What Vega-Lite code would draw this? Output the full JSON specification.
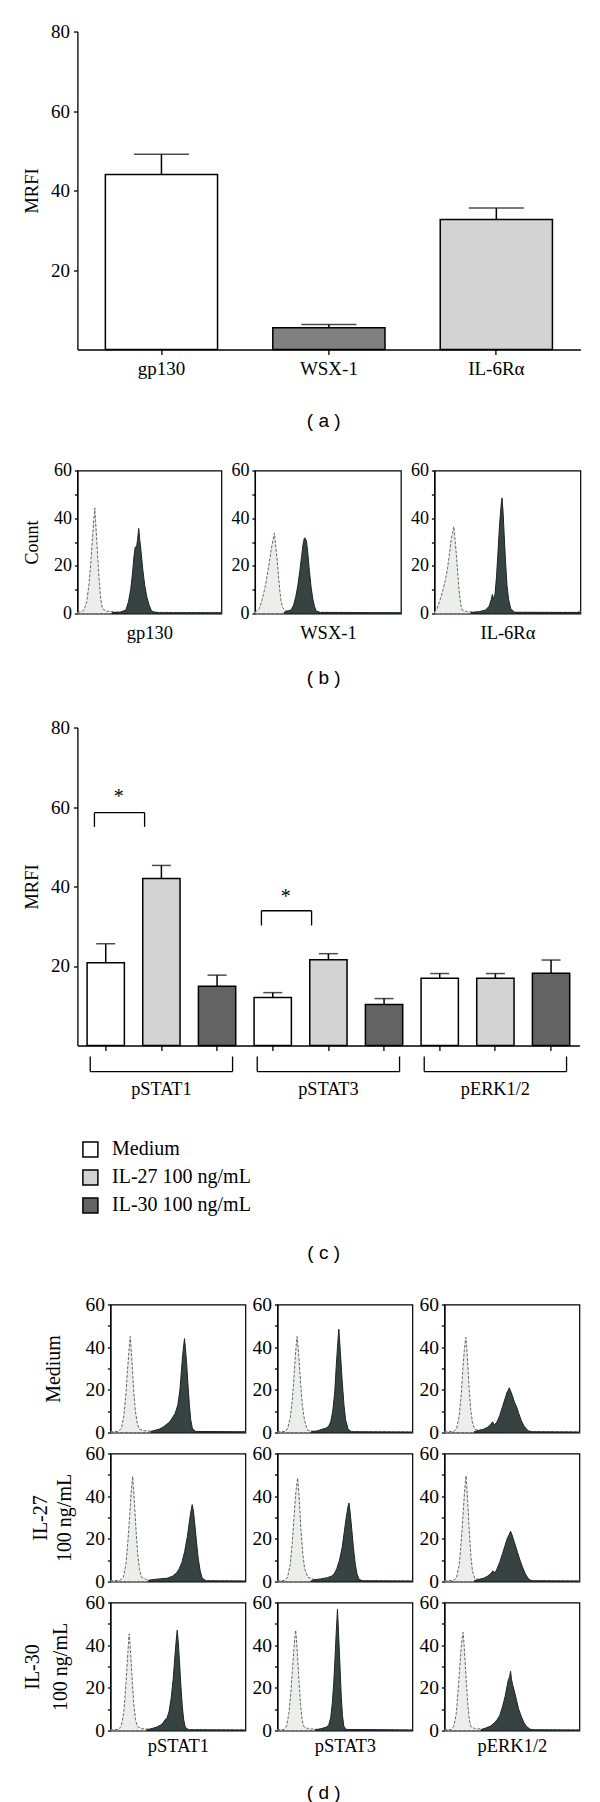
{
"$schema": "https://vega.github.io/schema/vega-lite/v6.json",
"background": "white",
"padding": {"left": 22.4, "top": 22.5, "right": 0, "bottom": 0},
"config": {
  "font": "Liberation Serif",
  "view": {"stroke": null},
  "axis": {"domainColor": "black", "tickColor": "black", "labelColor": "black", "titleColor": "black", "grid": false, "labelFont": "Liberation Serif", "titleFont": "Liberation Serif", "titleFontWeight": "normal", "domainWidth": 1.3, "tickWidth": 1.3},
  "legend": {"labelFont": "Liberation Serif", "labelColor": "black"},
  "title": {"font": "Liberation Sans", "fontSize": 19, "fontWeight": "normal", "color": "black", "orient": "bottom", "anchor": "middle", "frame": "group"}
},
"datasets": {
  "a": [
    {"m": "gp130", "v": 44.0, "e": 49.1},
    {"m": "WSX-1", "v": 5.5, "e": 6.3},
    {"m": "IL-6Rα", "v": 32.7, "e": 35.6}
  ],
  "c": [
    {"k": "pSTAT1|Medium", "t": "Medium", "v": 20.8, "e": 25.6},
    {"k": "pSTAT1|IL-27", "t": "IL-27 100 ng/mL", "v": 42.0, "e": 45.3},
    {"k": "pSTAT1|IL-30", "t": "IL-30 100 ng/mL", "v": 14.9, "e": 17.7},
    {"k": "pSTAT3|Medium", "t": "Medium", "v": 12.1, "e": 13.3},
    {"k": "pSTAT3|IL-27", "t": "IL-27 100 ng/mL", "v": 21.6, "e": 23.1},
    {"k": "pSTAT3|IL-30", "t": "IL-30 100 ng/mL", "v": 10.3, "e": 11.8},
    {"k": "pERK1/2|Medium", "t": "Medium", "v": 16.9, "e": 18.1},
    {"k": "pERK1/2|IL-27", "t": "IL-27 100 ng/mL", "v": 16.9, "e": 18.1},
    {"k": "pERK1/2|IL-30", "t": "IL-30 100 ng/mL", "v": 18.2, "e": 21.5}
  ],
  "grp": [
    {"a": "pSTAT1|Medium", "b": "pSTAT1|IL-30", "lo": -6.55, "hi": -2.77},
    {"a": "pSTAT3|Medium", "b": "pSTAT3|IL-30", "lo": -6.55, "hi": -2.77},
    {"a": "pERK1/2|Medium", "b": "pERK1/2|IL-30", "lo": -6.55, "hi": -2.77}
  ],
  "sig": [
    {"a": "pSTAT1|Medium", "b": "pSTAT1|IL-27", "y": 58.6, "lo": 55.0, "ys": 62.4},
    {"a": "pSTAT3|Medium", "b": "pSTAT3|IL-27", "y": 33.9, "lo": 30.2, "ys": 37.4}
  ],
  "b": [
    {"c":"gp130","s":"i","x":0,"y":0.5},{"c":"gp130","s":"i","x":3,"y":0.8},{"c":"gp130","s":"i","x":4.6,"y":1.5},{"c":"gp130","s":"i","x":6.5,"y":5},{"c":"gp130","s":"i","x":8,"y":12},{"c":"gp130","s":"i","x":9.3,"y":21},{"c":"gp130","s":"i","x":10.3,"y":30},{"c":"gp130","s":"i","x":11.2,"y":38},{"c":"gp130","s":"i","x":11.8,"y":42},{"c":"gp130","s":"i","x":12.1,"y":44.3},{"c":"gp130","s":"i","x":12.6,"y":39},{"c":"gp130","s":"i","x":13.3,"y":32},{"c":"gp130","s":"i","x":14.2,"y":23},{"c":"gp130","s":"i","x":15.2,"y":13},{"c":"gp130","s":"i","x":16.2,"y":6},{"c":"gp130","s":"i","x":17.4,"y":2},{"c":"gp130","s":"i","x":20,"y":1},{"c":"gp130","s":"i","x":28,"y":0.6},{"c":"gp130","s":"i","x":100,"y":0.3},
    {"c":"gp130","s":"s","x":24,"y":0.3},{"c":"gp130","s":"s","x":30,"y":0.6},{"c":"gp130","s":"s","x":33.7,"y":1.5},{"c":"gp130","s":"s","x":35.5,"y":5},{"c":"gp130","s":"s","x":37,"y":10},{"c":"gp130","s":"s","x":38.3,"y":17},{"c":"gp130","s":"s","x":39.3,"y":24},{"c":"gp130","s":"s","x":40.2,"y":28},{"c":"gp130","s":"s","x":41,"y":27.5},{"c":"gp130","s":"s","x":41.8,"y":31},{"c":"gp130","s":"s","x":42.6,"y":35.7},{"c":"gp130","s":"s","x":43.3,"y":31},{"c":"gp130","s":"s","x":44.2,"y":26},{"c":"gp130","s":"s","x":45.3,"y":19},{"c":"gp130","s":"s","x":46.7,"y":12},{"c":"gp130","s":"s","x":48.2,"y":7},{"c":"gp130","s":"s","x":49.8,"y":3.5},{"c":"gp130","s":"s","x":51.2,"y":1.5},{"c":"gp130","s":"s","x":52.3,"y":0.8},{"c":"gp130","s":"s","x":56,"y":0.3},{"c":"gp130","s":"s","x":100,"y":0.3},
    {"c":"WSX-1","s":"i","x":0,"y":0.5},{"c":"WSX-1","s":"i","x":3,"y":2},{"c":"WSX-1","s":"i","x":5,"y":6},{"c":"WSX-1","s":"i","x":7,"y":11},{"c":"WSX-1","s":"i","x":8.7,"y":17},{"c":"WSX-1","s":"i","x":10,"y":22},{"c":"WSX-1","s":"i","x":11.2,"y":27},{"c":"WSX-1","s":"i","x":12.3,"y":30.5},{"c":"WSX-1","s":"i","x":13.3,"y":33.8},{"c":"WSX-1","s":"i","x":14,"y":30},{"c":"WSX-1","s":"i","x":15,"y":24},{"c":"WSX-1","s":"i","x":16,"y":17},{"c":"WSX-1","s":"i","x":17,"y":10},{"c":"WSX-1","s":"i","x":18,"y":5},{"c":"WSX-1","s":"i","x":19,"y":2.5},{"c":"WSX-1","s":"i","x":21,"y":1.2},{"c":"WSX-1","s":"i","x":28,"y":0.6},{"c":"WSX-1","s":"i","x":100,"y":0.3},
    {"c":"WSX-1","s":"s","x":20,"y":0.5},{"c":"WSX-1","s":"s","x":24.8,"y":1.5},{"c":"WSX-1","s":"s","x":26.5,"y":3.5},{"c":"WSX-1","s":"s","x":28,"y":7},{"c":"WSX-1","s":"s","x":29.5,"y":12},{"c":"WSX-1","s":"s","x":30.8,"y":18},{"c":"WSX-1","s":"s","x":32,"y":24},{"c":"WSX-1","s":"s","x":33,"y":29},{"c":"WSX-1","s":"s","x":33.9,"y":31.7},{"c":"WSX-1","s":"s","x":34.6,"y":31.5},{"c":"WSX-1","s":"s","x":35.4,"y":30},{"c":"WSX-1","s":"s","x":36.3,"y":25},{"c":"WSX-1","s":"s","x":37.3,"y":18},{"c":"WSX-1","s":"s","x":38.5,"y":11},{"c":"WSX-1","s":"s","x":39.7,"y":6},{"c":"WSX-1","s":"s","x":40.8,"y":3},{"c":"WSX-1","s":"s","x":42,"y":1},{"c":"WSX-1","s":"s","x":45,"y":0.4},{"c":"WSX-1","s":"s","x":100,"y":0.3},
    {"c":"IL-6Rα","s":"i","x":0,"y":0.5},{"c":"IL-6Rα","s":"i","x":1.8,"y":2},{"c":"IL-6Rα","s":"i","x":3.5,"y":5},{"c":"IL-6Rα","s":"i","x":5.5,"y":9},{"c":"IL-6Rα","s":"i","x":7.5,"y":14},{"c":"IL-6Rα","s":"i","x":9,"y":19},{"c":"IL-6Rα","s":"i","x":10.3,"y":25},{"c":"IL-6Rα","s":"i","x":11.5,"y":31},{"c":"IL-6Rα","s":"i","x":12.5,"y":34},{"c":"IL-6Rα","s":"i","x":13.3,"y":36.5},{"c":"IL-6Rα","s":"i","x":14,"y":32},{"c":"IL-6Rα","s":"i","x":15,"y":25},{"c":"IL-6Rα","s":"i","x":16,"y":17},{"c":"IL-6Rα","s":"i","x":17,"y":9},{"c":"IL-6Rα","s":"i","x":18,"y":4},{"c":"IL-6Rα","s":"i","x":19,"y":1.5},{"c":"IL-6Rα","s":"i","x":22,"y":0.8},{"c":"IL-6Rα","s":"i","x":30,"y":0.5},{"c":"IL-6Rα","s":"i","x":98,"y":0.5},{"c":"IL-6Rα","s":"i","x":100,"y":1.2},
    {"c":"IL-6Rα","s":"s","x":25,"y":0.4},{"c":"IL-6Rα","s":"s","x":31,"y":0.8},{"c":"IL-6Rα","s":"s","x":35,"y":1.5},{"c":"IL-6Rα","s":"s","x":37.5,"y":3},{"c":"IL-6Rα","s":"s","x":39,"y":6},{"c":"IL-6Rα","s":"s","x":39.7,"y":8},{"c":"IL-6Rα","s":"s","x":40.5,"y":6},{"c":"IL-6Rα","s":"s","x":41.5,"y":8},{"c":"IL-6Rα","s":"s","x":42.5,"y":15},{"c":"IL-6Rα","s":"s","x":43.5,"y":25},{"c":"IL-6Rα","s":"s","x":44.5,"y":36},{"c":"IL-6Rα","s":"s","x":45.5,"y":44},{"c":"IL-6Rα","s":"s","x":46.3,"y":48.5},{"c":"IL-6Rα","s":"s","x":47,"y":43},{"c":"IL-6Rα","s":"s","x":47.8,"y":33},{"c":"IL-6Rα","s":"s","x":48.7,"y":22},{"c":"IL-6Rα","s":"s","x":49.7,"y":12},{"c":"IL-6Rα","s":"s","x":50.8,"y":6},{"c":"IL-6Rα","s":"s","x":52.3,"y":2},{"c":"IL-6Rα","s":"s","x":55,"y":0.5},{"c":"IL-6Rα","s":"s","x":100,"y":0.4}
  ],
  "d": [
    {"r":"Medium","c":"pSTAT1","s":"i","x":0,"y":0.3},{"r":"Medium","c":"pSTAT1","s":"i","x":6,"y":0.5},{"r":"Medium","c":"pSTAT1","s":"i","x":8.2,"y":2},{"r":"Medium","c":"pSTAT1","s":"i","x":10,"y":8},{"r":"Medium","c":"pSTAT1","s":"i","x":11.5,"y":18},{"r":"Medium","c":"pSTAT1","s":"i","x":12.5,"y":28},{"r":"Medium","c":"pSTAT1","s":"i","x":13.5,"y":36},{"r":"Medium","c":"pSTAT1","s":"i","x":14.2,"y":42},{"r":"Medium","c":"pSTAT1","s":"i","x":14.7,"y":45},{"r":"Medium","c":"pSTAT1","s":"i","x":15.3,"y":40},{"r":"Medium","c":"pSTAT1","s":"i","x":16.2,"y":31},{"r":"Medium","c":"pSTAT1","s":"i","x":17.2,"y":20},{"r":"Medium","c":"pSTAT1","s":"i","x":18.5,"y":10},{"r":"Medium","c":"pSTAT1","s":"i","x":20,"y":4},{"r":"Medium","c":"pSTAT1","s":"i","x":21.5,"y":1.5},{"r":"Medium","c":"pSTAT1","s":"i","x":25,"y":0.8},{"r":"Medium","c":"pSTAT1","s":"i","x":35,"y":0.5},{"r":"Medium","c":"pSTAT1","s":"i","x":100,"y":0.3},
    {"r":"Medium","c":"pSTAT1","s":"s","x":30,"y":0.5},{"r":"Medium","c":"pSTAT1","s":"s","x":33,"y":1},{"r":"Medium","c":"pSTAT1","s":"s","x":36,"y":1.5},{"r":"Medium","c":"pSTAT1","s":"s","x":39,"y":2.5},{"r":"Medium","c":"pSTAT1","s":"s","x":42,"y":4},{"r":"Medium","c":"pSTAT1","s":"s","x":44,"y":5},{"r":"Medium","c":"pSTAT1","s":"s","x":46,"y":7},{"r":"Medium","c":"pSTAT1","s":"s","x":48,"y":9},{"r":"Medium","c":"pSTAT1","s":"s","x":50,"y":13},{"r":"Medium","c":"pSTAT1","s":"s","x":51.5,"y":20},{"r":"Medium","c":"pSTAT1","s":"s","x":52.5,"y":28},{"r":"Medium","c":"pSTAT1","s":"s","x":53.5,"y":36},{"r":"Medium","c":"pSTAT1","s":"s","x":54.5,"y":42},{"r":"Medium","c":"pSTAT1","s":"s","x":54.9,"y":44},{"r":"Medium","c":"pSTAT1","s":"s","x":55.5,"y":40},{"r":"Medium","c":"pSTAT1","s":"s","x":56.5,"y":32},{"r":"Medium","c":"pSTAT1","s":"s","x":57.5,"y":22},{"r":"Medium","c":"pSTAT1","s":"s","x":58.5,"y":13},{"r":"Medium","c":"pSTAT1","s":"s","x":59.5,"y":6},{"r":"Medium","c":"pSTAT1","s":"s","x":60.7,"y":2},{"r":"Medium","c":"pSTAT1","s":"s","x":63,"y":0.5},{"r":"Medium","c":"pSTAT1","s":"s","x":100,"y":0.3},
    {"r":"Medium","c":"pSTAT3","s":"i","x":0,"y":0.3},{"r":"Medium","c":"pSTAT3","s":"i","x":6,"y":0.5},{"r":"Medium","c":"pSTAT3","s":"i","x":7.7,"y":2},{"r":"Medium","c":"pSTAT3","s":"i","x":9.5,"y":7},{"r":"Medium","c":"pSTAT3","s":"i","x":11,"y":15},{"r":"Medium","c":"pSTAT3","s":"i","x":12.3,"y":26},{"r":"Medium","c":"pSTAT3","s":"i","x":13.3,"y":36},{"r":"Medium","c":"pSTAT3","s":"i","x":14.1,"y":42},{"r":"Medium","c":"pSTAT3","s":"i","x":14.6,"y":45},{"r":"Medium","c":"pSTAT3","s":"i","x":15.2,"y":41},{"r":"Medium","c":"pSTAT3","s":"i","x":16.2,"y":33},{"r":"Medium","c":"pSTAT3","s":"i","x":17.3,"y":22},{"r":"Medium","c":"pSTAT3","s":"i","x":18.5,"y":13},{"r":"Medium","c":"pSTAT3","s":"i","x":20,"y":6},{"r":"Medium","c":"pSTAT3","s":"i","x":21.5,"y":2.5},{"r":"Medium","c":"pSTAT3","s":"i","x":22.6,"y":1},{"r":"Medium","c":"pSTAT3","s":"i","x":27,"y":0.6},{"r":"Medium","c":"pSTAT3","s":"i","x":35,"y":0.5},{"r":"Medium","c":"pSTAT3","s":"i","x":100,"y":0.2},
    {"r":"Medium","c":"pSTAT3","s":"s","x":25,"y":0.3},{"r":"Medium","c":"pSTAT3","s":"s","x":30,"y":0.8},{"r":"Medium","c":"pSTAT3","s":"s","x":33,"y":1.5},{"r":"Medium","c":"pSTAT3","s":"s","x":36,"y":2},{"r":"Medium","c":"pSTAT3","s":"s","x":38,"y":3},{"r":"Medium","c":"pSTAT3","s":"s","x":39.5,"y":5},{"r":"Medium","c":"pSTAT3","s":"s","x":41,"y":10},{"r":"Medium","c":"pSTAT3","s":"s","x":42.5,"y":19},{"r":"Medium","c":"pSTAT3","s":"s","x":43.5,"y":30},{"r":"Medium","c":"pSTAT3","s":"s","x":44.5,"y":40},{"r":"Medium","c":"pSTAT3","s":"s","x":45.2,"y":46},{"r":"Medium","c":"pSTAT3","s":"s","x":45.5,"y":48.4},{"r":"Medium","c":"pSTAT3","s":"s","x":46,"y":44},{"r":"Medium","c":"pSTAT3","s":"s","x":47,"y":34},{"r":"Medium","c":"pSTAT3","s":"s","x":48,"y":24},{"r":"Medium","c":"pSTAT3","s":"s","x":49.3,"y":13},{"r":"Medium","c":"pSTAT3","s":"s","x":50.5,"y":6},{"r":"Medium","c":"pSTAT3","s":"s","x":52.4,"y":1.5},{"r":"Medium","c":"pSTAT3","s":"s","x":55,"y":0.3},{"r":"Medium","c":"pSTAT3","s":"s","x":100,"y":0.2},
    {"r":"Medium","c":"pERK1/2","s":"i","x":0,"y":0.3},{"r":"Medium","c":"pERK1/2","s":"i","x":7,"y":0.5},{"r":"Medium","c":"pERK1/2","s":"i","x":9.1,"y":2},{"r":"Medium","c":"pERK1/2","s":"i","x":11,"y":8},{"r":"Medium","c":"pERK1/2","s":"i","x":12.5,"y":18},{"r":"Medium","c":"pERK1/2","s":"i","x":13.7,"y":30},{"r":"Medium","c":"pERK1/2","s":"i","x":14.8,"y":39},{"r":"Medium","c":"pERK1/2","s":"i","x":15.5,"y":43},{"r":"Medium","c":"pERK1/2","s":"i","x":15.9,"y":44.6},{"r":"Medium","c":"pERK1/2","s":"i","x":16.5,"y":40},{"r":"Medium","c":"pERK1/2","s":"i","x":17.3,"y":32},{"r":"Medium","c":"pERK1/2","s":"i","x":18.3,"y":21},{"r":"Medium","c":"pERK1/2","s":"i","x":19.5,"y":11},{"r":"Medium","c":"pERK1/2","s":"i","x":20.7,"y":5},{"r":"Medium","c":"pERK1/2","s":"i","x":22.4,"y":1.5},{"r":"Medium","c":"pERK1/2","s":"i","x":26,"y":0.8},{"r":"Medium","c":"pERK1/2","s":"i","x":35,"y":0.5},{"r":"Medium","c":"pERK1/2","s":"i","x":100,"y":0.2},
    {"r":"Medium","c":"pERK1/2","s":"s","x":22,"y":0.3},{"r":"Medium","c":"pERK1/2","s":"s","x":25.4,"y":1},{"r":"Medium","c":"pERK1/2","s":"s","x":29,"y":1.5},{"r":"Medium","c":"pERK1/2","s":"s","x":32,"y":2.5},{"r":"Medium","c":"pERK1/2","s":"s","x":34,"y":3.5},{"r":"Medium","c":"pERK1/2","s":"s","x":35.7,"y":5},{"r":"Medium","c":"pERK1/2","s":"s","x":37,"y":3.5},{"r":"Medium","c":"pERK1/2","s":"s","x":39,"y":5},{"r":"Medium","c":"pERK1/2","s":"s","x":41,"y":8},{"r":"Medium","c":"pERK1/2","s":"s","x":43,"y":12},{"r":"Medium","c":"pERK1/2","s":"s","x":45,"y":16},{"r":"Medium","c":"pERK1/2","s":"s","x":46.5,"y":19},{"r":"Medium","c":"pERK1/2","s":"s","x":47.5,"y":20},{"r":"Medium","c":"pERK1/2","s":"s","x":48,"y":21},{"r":"Medium","c":"pERK1/2","s":"s","x":49,"y":19.5},{"r":"Medium","c":"pERK1/2","s":"s","x":50.5,"y":17},{"r":"Medium","c":"pERK1/2","s":"s","x":52,"y":14},{"r":"Medium","c":"pERK1/2","s":"s","x":53.5,"y":12},{"r":"Medium","c":"pERK1/2","s":"s","x":55,"y":9},{"r":"Medium","c":"pERK1/2","s":"s","x":57,"y":5.5},{"r":"Medium","c":"pERK1/2","s":"s","x":59,"y":3},{"r":"Medium","c":"pERK1/2","s":"s","x":61,"y":1.5},{"r":"Medium","c":"pERK1/2","s":"s","x":62.2,"y":0.8},{"r":"Medium","c":"pERK1/2","s":"s","x":65,"y":0.3},{"r":"Medium","c":"pERK1/2","s":"s","x":100,"y":0.2},
    {"r":"IL-27","c":"pSTAT1","s":"i","x":0,"y":0.3},{"r":"IL-27","c":"pSTAT1","s":"i","x":7,"y":0.5},{"r":"IL-27","c":"pSTAT1","s":"i","x":9.6,"y":2},{"r":"IL-27","c":"pSTAT1","s":"i","x":11.5,"y":8},{"r":"IL-27","c":"pSTAT1","s":"i","x":13,"y":19},{"r":"IL-27","c":"pSTAT1","s":"i","x":14.3,"y":31},{"r":"IL-27","c":"pSTAT1","s":"i","x":15.3,"y":41},{"r":"IL-27","c":"pSTAT1","s":"i","x":16,"y":46},{"r":"IL-27","c":"pSTAT1","s":"i","x":16.5,"y":49.3},{"r":"IL-27","c":"pSTAT1","s":"i","x":17.1,"y":44},{"r":"IL-27","c":"pSTAT1","s":"i","x":18,"y":35},{"r":"IL-27","c":"pSTAT1","s":"i","x":19,"y":24},{"r":"IL-27","c":"pSTAT1","s":"i","x":20.2,"y":13},{"r":"IL-27","c":"pSTAT1","s":"i","x":21.5,"y":6},{"r":"IL-27","c":"pSTAT1","s":"i","x":23,"y":2},{"r":"IL-27","c":"pSTAT1","s":"i","x":27,"y":0.8},{"r":"IL-27","c":"pSTAT1","s":"i","x":35,"y":0.5},{"r":"IL-27","c":"pSTAT1","s":"i","x":100,"y":0.2},
    {"r":"IL-27","c":"pSTAT1","s":"s","x":28,"y":0.3},{"r":"IL-27","c":"pSTAT1","s":"s","x":30.6,"y":0.8},{"r":"IL-27","c":"pSTAT1","s":"s","x":36,"y":1.2},{"r":"IL-27","c":"pSTAT1","s":"s","x":42,"y":1.5},{"r":"IL-27","c":"pSTAT1","s":"s","x":46,"y":2.5},{"r":"IL-27","c":"pSTAT1","s":"s","x":49,"y":4},{"r":"IL-27","c":"pSTAT1","s":"s","x":51,"y":6},{"r":"IL-27","c":"pSTAT1","s":"s","x":53,"y":9},{"r":"IL-27","c":"pSTAT1","s":"s","x":55,"y":14},{"r":"IL-27","c":"pSTAT1","s":"s","x":57,"y":21},{"r":"IL-27","c":"pSTAT1","s":"s","x":58.5,"y":28},{"r":"IL-27","c":"pSTAT1","s":"s","x":59.7,"y":33},{"r":"IL-27","c":"pSTAT1","s":"s","x":60.6,"y":36},{"r":"IL-27","c":"pSTAT1","s":"s","x":61.5,"y":33},{"r":"IL-27","c":"pSTAT1","s":"s","x":62.5,"y":27},{"r":"IL-27","c":"pSTAT1","s":"s","x":63.7,"y":19},{"r":"IL-27","c":"pSTAT1","s":"s","x":65,"y":11},{"r":"IL-27","c":"pSTAT1","s":"s","x":66.5,"y":5},{"r":"IL-27","c":"pSTAT1","s":"s","x":68,"y":1.5},{"r":"IL-27","c":"pSTAT1","s":"s","x":71,"y":0.3},{"r":"IL-27","c":"pSTAT1","s":"s","x":100,"y":0.2},
    {"r":"IL-27","c":"pSTAT3","s":"i","x":0,"y":0.3},{"r":"IL-27","c":"pSTAT3","s":"i","x":5.5,"y":0.5},{"r":"IL-27","c":"pSTAT3","s":"i","x":7.5,"y":2},{"r":"IL-27","c":"pSTAT3","s":"i","x":9.5,"y":8},{"r":"IL-27","c":"pSTAT3","s":"i","x":11,"y":18},{"r":"IL-27","c":"pSTAT3","s":"i","x":12.3,"y":30},{"r":"IL-27","c":"pSTAT3","s":"i","x":13.4,"y":40},{"r":"IL-27","c":"pSTAT3","s":"i","x":14.4,"y":46},{"r":"IL-27","c":"pSTAT3","s":"i","x":15,"y":48.5},{"r":"IL-27","c":"pSTAT3","s":"i","x":15.6,"y":44},{"r":"IL-27","c":"pSTAT3","s":"i","x":16.5,"y":35},{"r":"IL-27","c":"pSTAT3","s":"i","x":17.5,"y":24},{"r":"IL-27","c":"pSTAT3","s":"i","x":18.8,"y":13},{"r":"IL-27","c":"pSTAT3","s":"i","x":20.2,"y":6},{"r":"IL-27","c":"pSTAT3","s":"i","x":22.5,"y":2},{"r":"IL-27","c":"pSTAT3","s":"i","x":27,"y":1},{"r":"IL-27","c":"pSTAT3","s":"i","x":35,"y":0.5},{"r":"IL-27","c":"pSTAT3","s":"i","x":100,"y":0.2},
    {"r":"IL-27","c":"pSTAT3","s":"s","x":25,"y":0.3},{"r":"IL-27","c":"pSTAT3","s":"s","x":27,"y":0.8},{"r":"IL-27","c":"pSTAT3","s":"s","x":32,"y":1.2},{"r":"IL-27","c":"pSTAT3","s":"s","x":37,"y":1.8},{"r":"IL-27","c":"pSTAT3","s":"s","x":40,"y":2.5},{"r":"IL-27","c":"pSTAT3","s":"s","x":42,"y":3.5},{"r":"IL-27","c":"pSTAT3","s":"s","x":44,"y":6},{"r":"IL-27","c":"pSTAT3","s":"s","x":46,"y":10},{"r":"IL-27","c":"pSTAT3","s":"s","x":48,"y":16},{"r":"IL-27","c":"pSTAT3","s":"s","x":49.5,"y":23},{"r":"IL-27","c":"pSTAT3","s":"s","x":51,"y":30},{"r":"IL-27","c":"pSTAT3","s":"s","x":52.3,"y":35},{"r":"IL-27","c":"pSTAT3","s":"s","x":53,"y":36.8},{"r":"IL-27","c":"pSTAT3","s":"s","x":53.8,"y":33},{"r":"IL-27","c":"pSTAT3","s":"s","x":55,"y":25},{"r":"IL-27","c":"pSTAT3","s":"s","x":56.3,"y":16},{"r":"IL-27","c":"pSTAT3","s":"s","x":57.7,"y":8},{"r":"IL-27","c":"pSTAT3","s":"s","x":59,"y":3.5},{"r":"IL-27","c":"pSTAT3","s":"s","x":60.5,"y":1},{"r":"IL-27","c":"pSTAT3","s":"s","x":63,"y":0.3},{"r":"IL-27","c":"pSTAT3","s":"s","x":100,"y":0.2},
    {"r":"IL-27","c":"pERK1/2","s":"i","x":0,"y":0.3},{"r":"IL-27","c":"pERK1/2","s":"i","x":7,"y":0.5},{"r":"IL-27","c":"pERK1/2","s":"i","x":9,"y":2},{"r":"IL-27","c":"pERK1/2","s":"i","x":11,"y":8},{"r":"IL-27","c":"pERK1/2","s":"i","x":12.5,"y":19},{"r":"IL-27","c":"pERK1/2","s":"i","x":13.8,"y":31},{"r":"IL-27","c":"pERK1/2","s":"i","x":14.9,"y":42},{"r":"IL-27","c":"pERK1/2","s":"i","x":15.6,"y":47},{"r":"IL-27","c":"pERK1/2","s":"i","x":16,"y":49.6},{"r":"IL-27","c":"pERK1/2","s":"i","x":16.6,"y":45},{"r":"IL-27","c":"pERK1/2","s":"i","x":17.4,"y":36},{"r":"IL-27","c":"pERK1/2","s":"i","x":18.4,"y":24},{"r":"IL-27","c":"pERK1/2","s":"i","x":19.6,"y":12},{"r":"IL-27","c":"pERK1/2","s":"i","x":20.8,"y":5},{"r":"IL-27","c":"pERK1/2","s":"i","x":22.4,"y":1.5},{"r":"IL-27","c":"pERK1/2","s":"i","x":26,"y":0.8},{"r":"IL-27","c":"pERK1/2","s":"i","x":35,"y":0.5},{"r":"IL-27","c":"pERK1/2","s":"i","x":100,"y":0.2},
    {"r":"IL-27","c":"pERK1/2","s":"s","x":22,"y":0.3},{"r":"IL-27","c":"pERK1/2","s":"s","x":25.4,"y":1},{"r":"IL-27","c":"pERK1/2","s":"s","x":29,"y":1.5},{"r":"IL-27","c":"pERK1/2","s":"s","x":32,"y":2.5},{"r":"IL-27","c":"pERK1/2","s":"s","x":34,"y":3.5},{"r":"IL-27","c":"pERK1/2","s":"s","x":36,"y":5},{"r":"IL-27","c":"pERK1/2","s":"s","x":37.5,"y":4},{"r":"IL-27","c":"pERK1/2","s":"s","x":39,"y":6},{"r":"IL-27","c":"pERK1/2","s":"s","x":41,"y":9},{"r":"IL-27","c":"pERK1/2","s":"s","x":43,"y":13},{"r":"IL-27","c":"pERK1/2","s":"s","x":45,"y":17},{"r":"IL-27","c":"pERK1/2","s":"s","x":46.5,"y":20},{"r":"IL-27","c":"pERK1/2","s":"s","x":48,"y":22},{"r":"IL-27","c":"pERK1/2","s":"s","x":49,"y":23.5},{"r":"IL-27","c":"pERK1/2","s":"s","x":50,"y":22},{"r":"IL-27","c":"pERK1/2","s":"s","x":51.5,"y":19},{"r":"IL-27","c":"pERK1/2","s":"s","x":53,"y":16},{"r":"IL-27","c":"pERK1/2","s":"s","x":54.5,"y":13},{"r":"IL-27","c":"pERK1/2","s":"s","x":56,"y":10},{"r":"IL-27","c":"pERK1/2","s":"s","x":58,"y":6.5},{"r":"IL-27","c":"pERK1/2","s":"s","x":60,"y":3.5},{"r":"IL-27","c":"pERK1/2","s":"s","x":62,"y":1.5},{"r":"IL-27","c":"pERK1/2","s":"s","x":63.7,"y":0.6},{"r":"IL-27","c":"pERK1/2","s":"s","x":66,"y":0.3},{"r":"IL-27","c":"pERK1/2","s":"s","x":100,"y":0.2},
    {"r":"IL-30","c":"pSTAT1","s":"i","x":0,"y":0.3},{"r":"IL-30","c":"pSTAT1","s":"i","x":6,"y":0.5},{"r":"IL-30","c":"pSTAT1","s":"i","x":8,"y":2},{"r":"IL-30","c":"pSTAT1","s":"i","x":9.8,"y":8},{"r":"IL-30","c":"pSTAT1","s":"i","x":11,"y":17},{"r":"IL-30","c":"pSTAT1","s":"i","x":12.1,"y":28},{"r":"IL-30","c":"pSTAT1","s":"i","x":13,"y":37},{"r":"IL-30","c":"pSTAT1","s":"i","x":13.5,"y":42},{"r":"IL-30","c":"pSTAT1","s":"i","x":13.9,"y":45.3},{"r":"IL-30","c":"pSTAT1","s":"i","x":14.5,"y":41},{"r":"IL-30","c":"pSTAT1","s":"i","x":15.3,"y":33},{"r":"IL-30","c":"pSTAT1","s":"i","x":16.3,"y":22},{"r":"IL-30","c":"pSTAT1","s":"i","x":17.4,"y":12},{"r":"IL-30","c":"pSTAT1","s":"i","x":18.6,"y":5},{"r":"IL-30","c":"pSTAT1","s":"i","x":20,"y":1.8},{"r":"IL-30","c":"pSTAT1","s":"i","x":24,"y":0.8},{"r":"IL-30","c":"pSTAT1","s":"i","x":32,"y":0.5},{"r":"IL-30","c":"pSTAT1","s":"i","x":100,"y":0.2},
    {"r":"IL-30","c":"pSTAT1","s":"s","x":27,"y":0.3},{"r":"IL-30","c":"pSTAT1","s":"s","x":30,"y":0.8},{"r":"IL-30","c":"pSTAT1","s":"s","x":34,"y":1.5},{"r":"IL-30","c":"pSTAT1","s":"s","x":37,"y":2.5},{"r":"IL-30","c":"pSTAT1","s":"s","x":39,"y":3.5},{"r":"IL-30","c":"pSTAT1","s":"s","x":40.5,"y":5},{"r":"IL-30","c":"pSTAT1","s":"s","x":42,"y":6},{"r":"IL-30","c":"pSTAT1","s":"s","x":43.5,"y":9},{"r":"IL-30","c":"pSTAT1","s":"s","x":45,"y":15},{"r":"IL-30","c":"pSTAT1","s":"s","x":46.5,"y":24},{"r":"IL-30","c":"pSTAT1","s":"s","x":47.7,"y":34},{"r":"IL-30","c":"pSTAT1","s":"s","x":48.7,"y":42},{"r":"IL-30","c":"pSTAT1","s":"s","x":49.5,"y":47},{"r":"IL-30","c":"pSTAT1","s":"s","x":50.2,"y":42},{"r":"IL-30","c":"pSTAT1","s":"s","x":51.2,"y":32},{"r":"IL-30","c":"pSTAT1","s":"s","x":52.2,"y":21},{"r":"IL-30","c":"pSTAT1","s":"s","x":53.3,"y":11},{"r":"IL-30","c":"pSTAT1","s":"s","x":54.3,"y":5},{"r":"IL-30","c":"pSTAT1","s":"s","x":55.5,"y":1.5},{"r":"IL-30","c":"pSTAT1","s":"s","x":58,"y":0.3},{"r":"IL-30","c":"pSTAT1","s":"s","x":100,"y":0.2},
    {"r":"IL-30","c":"pSTAT3","s":"i","x":0,"y":0.3},{"r":"IL-30","c":"pSTAT3","s":"i","x":5,"y":0.5},{"r":"IL-30","c":"pSTAT3","s":"i","x":6.8,"y":2},{"r":"IL-30","c":"pSTAT3","s":"i","x":8.5,"y":8},{"r":"IL-30","c":"pSTAT3","s":"i","x":10,"y":18},{"r":"IL-30","c":"pSTAT3","s":"i","x":11.2,"y":29},{"r":"IL-30","c":"pSTAT3","s":"i","x":12.2,"y":38},{"r":"IL-30","c":"pSTAT3","s":"i","x":13,"y":44},{"r":"IL-30","c":"pSTAT3","s":"i","x":13.5,"y":47},{"r":"IL-30","c":"pSTAT3","s":"i","x":14.1,"y":43},{"r":"IL-30","c":"pSTAT3","s":"i","x":15,"y":34},{"r":"IL-30","c":"pSTAT3","s":"i","x":16,"y":23},{"r":"IL-30","c":"pSTAT3","s":"i","x":17.2,"y":12},{"r":"IL-30","c":"pSTAT3","s":"i","x":18.3,"y":5},{"r":"IL-30","c":"pSTAT3","s":"i","x":19.5,"y":1.8},{"r":"IL-30","c":"pSTAT3","s":"i","x":23,"y":0.8},{"r":"IL-30","c":"pSTAT3","s":"i","x":30,"y":0.5},{"r":"IL-30","c":"pSTAT3","s":"i","x":100,"y":0.2},
    {"r":"IL-30","c":"pSTAT3","s":"s","x":28,"y":0.3},{"r":"IL-30","c":"pSTAT3","s":"s","x":32,"y":0.8},{"r":"IL-30","c":"pSTAT3","s":"s","x":36,"y":1.5},{"r":"IL-30","c":"pSTAT3","s":"s","x":38,"y":2.5},{"r":"IL-30","c":"pSTAT3","s":"s","x":39.5,"y":6},{"r":"IL-30","c":"pSTAT3","s":"s","x":40.7,"y":13},{"r":"IL-30","c":"pSTAT3","s":"s","x":41.8,"y":23},{"r":"IL-30","c":"pSTAT3","s":"s","x":42.7,"y":34},{"r":"IL-30","c":"pSTAT3","s":"s","x":43.5,"y":45},{"r":"IL-30","c":"pSTAT3","s":"s","x":44.1,"y":52},{"r":"IL-30","c":"pSTAT3","s":"s","x":44.5,"y":56.8},{"r":"IL-30","c":"pSTAT3","s":"s","x":45,"y":50},{"r":"IL-30","c":"pSTAT3","s":"s","x":45.7,"y":40},{"r":"IL-30","c":"pSTAT3","s":"s","x":46.5,"y":28},{"r":"IL-30","c":"pSTAT3","s":"s","x":47.3,"y":16},{"r":"IL-30","c":"pSTAT3","s":"s","x":48.2,"y":7},{"r":"IL-30","c":"pSTAT3","s":"s","x":49.2,"y":2},{"r":"IL-30","c":"pSTAT3","s":"s","x":51,"y":0.5},{"r":"IL-30","c":"pSTAT3","s":"s","x":100,"y":0.2},
    {"r":"IL-30","c":"pERK1/2","s":"i","x":0,"y":0.3},{"r":"IL-30","c":"pERK1/2","s":"i","x":5,"y":0.5},{"r":"IL-30","c":"pERK1/2","s":"i","x":7,"y":2},{"r":"IL-30","c":"pERK1/2","s":"i","x":8.8,"y":8},{"r":"IL-30","c":"pERK1/2","s":"i","x":10.2,"y":19},{"r":"IL-30","c":"pERK1/2","s":"i","x":11.4,"y":30},{"r":"IL-30","c":"pERK1/2","s":"i","x":12.5,"y":39},{"r":"IL-30","c":"pERK1/2","s":"i","x":13.3,"y":44},{"r":"IL-30","c":"pERK1/2","s":"i","x":13.8,"y":46},{"r":"IL-30","c":"pERK1/2","s":"i","x":14.4,"y":42},{"r":"IL-30","c":"pERK1/2","s":"i","x":15.3,"y":33},{"r":"IL-30","c":"pERK1/2","s":"i","x":16.3,"y":22},{"r":"IL-30","c":"pERK1/2","s":"i","x":17.4,"y":12},{"r":"IL-30","c":"pERK1/2","s":"i","x":18.5,"y":5},{"r":"IL-30","c":"pERK1/2","s":"i","x":19.6,"y":1.8},{"r":"IL-30","c":"pERK1/2","s":"i","x":23,"y":0.8},{"r":"IL-30","c":"pERK1/2","s":"i","x":35,"y":0.5},{"r":"IL-30","c":"pERK1/2","s":"i","x":100,"y":0.2},
    {"r":"IL-30","c":"pERK1/2","s":"s","x":27,"y":0.3},{"r":"IL-30","c":"pERK1/2","s":"s","x":30,"y":1},{"r":"IL-30","c":"pERK1/2","s":"s","x":34,"y":2},{"r":"IL-30","c":"pERK1/2","s":"s","x":37,"y":3.5},{"r":"IL-30","c":"pERK1/2","s":"s","x":39,"y":5},{"r":"IL-30","c":"pERK1/2","s":"s","x":41,"y":7},{"r":"IL-30","c":"pERK1/2","s":"s","x":43,"y":11},{"r":"IL-30","c":"pERK1/2","s":"s","x":45,"y":16},{"r":"IL-30","c":"pERK1/2","s":"s","x":46.5,"y":21},{"r":"IL-30","c":"pERK1/2","s":"s","x":47.5,"y":24},{"r":"IL-30","c":"pERK1/2","s":"s","x":48.3,"y":25},{"r":"IL-30","c":"pERK1/2","s":"s","x":49,"y":27.8},{"r":"IL-30","c":"pERK1/2","s":"s","x":49.7,"y":24},{"r":"IL-30","c":"pERK1/2","s":"s","x":50.7,"y":21},{"r":"IL-30","c":"pERK1/2","s":"s","x":52,"y":18},{"r":"IL-30","c":"pERK1/2","s":"s","x":53.5,"y":14},{"r":"IL-30","c":"pERK1/2","s":"s","x":55,"y":10},{"r":"IL-30","c":"pERK1/2","s":"s","x":57,"y":6.5},{"r":"IL-30","c":"pERK1/2","s":"s","x":59,"y":3.5},{"r":"IL-30","c":"pERK1/2","s":"s","x":61,"y":1.8},{"r":"IL-30","c":"pERK1/2","s":"s","x":63.5,"y":0.6},{"r":"IL-30","c":"pERK1/2","s":"s","x":66,"y":0.3},{"r":"IL-30","c":"pERK1/2","s":"s","x":100,"y":0.2}
  ]
},
"resolve": {"scale": {"fill": "independent"}, "legend": {"fill": "independent"}},
"columns": 1,
"align": "none",
"spacing": 30,
"concat": [
  {
    "data": {"name": "a"},
    "width": 503, "height": 318,
    "title": {"text": "( a )", "offset": 33, "dx": -5.2},
    "encoding": {
      "x": {"field": "m", "type": "nominal", "sort": ["gp130", "WSX-1", "IL-6Rα"], "scale": {"paddingInner": 0.33, "paddingOuter": 0.167}, "axis": {"title": null, "labelAngle": 0, "labelFontSize": 19, "tickSize": 5, "labelPadding": 5}}
    },
    "layer": [
      {"mark": {"type": "bar", "stroke": "black", "strokeWidth": 1.5},
       "encoding": {
         "y": {"field": "v", "type": "quantitative", "scale": {"domain": [0, 80], "nice": false}, "axis": {"values": [20, 40, 60, 80], "title": "MRFI", "labelFontSize": 19, "titleFontSize": 18.5, "tickSize": 4, "labelPadding": 4, "titlePadding": 8.5, "minExtent": 27, "maxExtent": 27}},
         "fill": {"field": "m", "type": "nominal", "scale": {"domain": ["gp130", "WSX-1", "IL-6Rα"], "range": ["#ffffff", "#808080", "#d3d3d3"]}, "legend": null}
       }},
      {"mark": {"type": "rule", "strokeWidth": 1.5, "color": "black"}, "encoding": {"y": {"field": "v", "type": "quantitative"}, "y2": {"field": "e"}}},
      {"mark": {"type": "tick", "size": 55, "thickness": 1.5, "color": "black"}, "encoding": {"y": {"field": "e", "type": "quantitative"}}}
    ]
  },
  {
    "columns": 3,
    "bounds": "flush",
    "spacing": 33.5,
    "concat": [
      {
        "data": {"name": "b"},
        "width": 144, "height": 143,
        "view": {"stroke": "black", "strokeWidth": 1.2},
        "transform": [{"filter": "datum.c == 'gp130'"}],
        "encoding": {
          "x": {"field": "x", "type": "quantitative", "scale": {"domain": [0, 100], "nice": false}, "axis": {"title": "gp130", "labels": false, "ticks": false, "domain": false, "titleFontSize": 18.5, "titlePadding": 10}},
          "y": {"field": "y", "type": "quantitative", "scale": {"domain": [0, 60], "nice": false}, "axis": {"title": "Count", "values": [0, 10, 20, 30, 40, 50, 60], "labelExpr": "datum.value % 20 == 0 ? datum.label : ''", "tickSize": 3, "labelPadding": 3, "labelFontSize": 18, "titleFontSize": 18, "titlePadding": 11.7, "minExtent": 24, "maxExtent": 24}}
        },
        "layer": [
          {"transform": [{"filter": "datum.s == 'i'"}], "mark": {"type": "area", "fill": "#eceeea", "stroke": "#666666", "strokeWidth": 1, "strokeDash": [3, 1.5]}},
          {"transform": [{"filter": "datum.s == 's'"}], "mark": {"type": "area", "fill": "#374343", "stroke": "#1c2424", "strokeWidth": 1}}
        ]
      },
      {
        "data": {"name": "b"},
        "width": 146, "height": 143,
        "view": {"stroke": "black", "strokeWidth": 1.2},
        "title": {"text": "( b )", "offset": 26.5, "dx": -4.2},
        "transform": [{"filter": "datum.c == 'WSX-1'"}],
        "encoding": {
          "x": {"field": "x", "type": "quantitative", "scale": {"domain": [0, 100], "nice": false}, "axis": {"title": "WSX-1", "labels": false, "ticks": false, "domain": false, "titleFontSize": 18.5, "titlePadding": 10}},
          "y": {"field": "y", "type": "quantitative", "scale": {"domain": [0, 60], "nice": false}, "axis": {"title": null, "values": [0, 10, 20, 30, 40, 50, 60], "labelExpr": "datum.value % 20 == 0 ? datum.label : ''", "tickSize": 3, "labelPadding": 3, "labelFontSize": 18, "minExtent": 24, "maxExtent": 24}}
        },
        "layer": [
          {"transform": [{"filter": "datum.s == 'i'"}], "mark": {"type": "area", "fill": "#eceeea", "stroke": "#666666", "strokeWidth": 1, "strokeDash": [3, 1.5]}},
          {"transform": [{"filter": "datum.s == 's'"}], "mark": {"type": "area", "fill": "#374343", "stroke": "#1c2424", "strokeWidth": 1}}
        ]
      },
      {
        "data": {"name": "b"},
        "width": 146, "height": 143,
        "view": {"stroke": "black", "strokeWidth": 1.2},
        "transform": [{"filter": "datum.c == 'IL-6Rα'"}],
        "encoding": {
          "x": {"field": "x", "type": "quantitative", "scale": {"domain": [0, 100], "nice": false}, "axis": {"title": "IL-6Rα", "labels": false, "ticks": false, "domain": false, "titleFontSize": 18.5, "titlePadding": 10}},
          "y": {"field": "y", "type": "quantitative", "scale": {"domain": [0, 60], "nice": false}, "axis": {"title": null, "values": [0, 10, 20, 30, 40, 50, 60], "labelExpr": "datum.value % 20 == 0 ? datum.label : ''", "tickSize": 3, "labelPadding": 3, "labelFontSize": 18, "minExtent": 24, "maxExtent": 24}}
        },
        "layer": [
          {"transform": [{"filter": "datum.s == 'i'"}], "mark": {"type": "area", "fill": "#eceeea", "stroke": "#666666", "strokeWidth": 1, "strokeDash": [3, 1.5]}},
          {"transform": [{"filter": "datum.s == 's'"}], "mark": {"type": "area", "fill": "#374343", "stroke": "#1c2424", "strokeWidth": 1}}
        ]
      }
    ]
  },
  {
    "width": 502, "height": 318,
    "title": {"text": "( c )", "offset": 27.5, "dx": -4.7},
    "layer": [
      {"data": {"name": "c"},
       "mark": {"type": "bar", "stroke": "black", "strokeWidth": 1.5},
       "encoding": {
         "x": {"field": "k", "type": "nominal", "sort": null, "scale": {"domain": ["pSTAT1|Medium", "pSTAT1|IL-27", "pSTAT1|IL-30", "pSTAT3|Medium", "pSTAT3|IL-27", "pSTAT3|IL-30", "pERK1/2|Medium", "pERK1/2|IL-27", "pERK1/2|IL-30"], "paddingInner": 0.33, "paddingOuter": 0.174}, "axis": {"title": null, "labelAngle": 0, "labelExpr": "indexof(datum.value, 'IL-27') >= 0 ? split(datum.value, '|')[0] : ''", "labelFontSize": 18.3, "tickSize": 5, "labelPadding": 30}},
         "y": {"field": "v", "type": "quantitative", "scale": {"domain": [0, 80], "nice": false}, "axis": {"values": [20, 40, 60, 80], "title": "MRFI", "labelFontSize": 19, "titleFontSize": 18.5, "tickSize": 4, "labelPadding": 4, "titlePadding": 8.5, "minExtent": 27, "maxExtent": 27}},
         "fill": {"field": "t", "type": "nominal", "scale": {"domain": ["Medium", "IL-27 100 ng/mL", "IL-30 100 ng/mL"], "range": ["#ffffff", "#d3d3d3", "#636363"]},
                  "legend": {"title": null, "orient": "none", "legendX": 3, "legendY": 412, "padding": 0, "symbolType": "square", "symbolSize": 225, "symbolStrokeColor": "black", "symbolStrokeWidth": 1.5, "labelFontSize": 20, "rowPadding": 6, "labelOffset": 11.7}}
       }},
      {"data": {"name": "c"}, "mark": {"type": "rule", "strokeWidth": 1.5, "color": "black"}, "encoding": {"x": {"field": "k", "type": "nominal"}, "y": {"field": "v", "type": "quantitative"}, "y2": {"field": "e"}}},
      {"data": {"name": "c"}, "mark": {"type": "tick", "size": 19, "thickness": 1.5, "color": "black"}, "encoding": {"x": {"field": "k", "type": "nominal"}, "y": {"field": "e", "type": "quantitative"}}},
      {"data": {"name": "grp"}, "mark": {"type": "rule", "strokeWidth": 1.3, "color": "black", "xOffset": -15.5, "x2Offset": 15.5}, "encoding": {"x": {"field": "a", "type": "nominal"}, "x2": {"field": "b"}, "y": {"field": "lo", "type": "quantitative"}}},
      {"data": {"name": "grp"}, "mark": {"type": "rule", "strokeWidth": 1.3, "color": "black", "xOffset": -15.5}, "encoding": {"x": {"field": "a", "type": "nominal"}, "y": {"field": "lo", "type": "quantitative"}, "y2": {"field": "hi"}}},
      {"data": {"name": "grp"}, "mark": {"type": "rule", "strokeWidth": 1.3, "color": "black", "xOffset": 15.5}, "encoding": {"x": {"field": "b", "type": "nominal"}, "y": {"field": "lo", "type": "quantitative"}, "y2": {"field": "hi"}}},
      {"data": {"name": "sig"}, "mark": {"type": "rule", "strokeWidth": 1.3, "color": "black", "xOffset": -11.3, "x2Offset": -16.8}, "encoding": {"x": {"field": "a", "type": "nominal"}, "x2": {"field": "b"}, "y": {"field": "y", "type": "quantitative"}}},
      {"data": {"name": "sig"}, "mark": {"type": "rule", "strokeWidth": 1.3, "color": "black", "xOffset": -11.3}, "encoding": {"x": {"field": "a", "type": "nominal"}, "y": {"field": "lo", "type": "quantitative"}, "y2": {"field": "y"}}},
      {"data": {"name": "sig"}, "mark": {"type": "rule", "strokeWidth": 1.3, "color": "black", "xOffset": -16.8}, "encoding": {"x": {"field": "b", "type": "nominal"}, "y": {"field": "lo", "type": "quantitative"}, "y2": {"field": "y"}}},
      {"data": {"name": "sig"}, "mark": {"type": "text", "text": "*", "fontSize": 20, "font": "Liberation Serif", "color": "black", "xOffset": 13, "baseline": "middle", "align": "center"}, "encoding": {"x": {"field": "a", "type": "nominal"}, "y": {"field": "ys", "type": "quantitative"}}}
    ]
  },
  {
    "columns": 4,
    "bounds": "flush",
    "spacing": {"row": 21, "column": 32},
    "concat": [
      {"data": {"values": []}, "mark": "point", "width": 1, "height": 128},
      {"data": {"name": "d"}, "width": 135, "height": 128, "view": {"stroke": "black", "strokeWidth": 1.2},
       "transform": [{"filter": "datum.r == 'Medium' && datum.c == 'pSTAT1'"}],
       "encoding": {
         "x": {"field": "x", "type": "quantitative", "scale": {"domain": [0, 100], "nice": false}, "axis": null},
         "y": {"field": "y", "type": "quantitative", "scale": {"domain": [0, 60], "nice": false}, "axis": {"title": "Medium", "titleFontSize": 20, "titlePadding": 21.1, "values": [0, 10, 20, 30, 40, 50, 60], "labelExpr": "datum.value % 20 == 0 ? datum.label : ''", "tickSize": 3, "labelPadding": 3, "labelFontSize": 19.5, "minExtent": 25.5, "maxExtent": 25.5}}
       },
       "layer": [
         {"transform": [{"filter": "datum.s == 'i'"}], "mark": {"type": "area", "fill": "#eceeea", "stroke": "#666666", "strokeWidth": 1, "strokeDash": [3, 1.5]}},
         {"transform": [{"filter": "datum.s == 's'"}], "mark": {"type": "area", "fill": "#374343", "stroke": "#1c2424", "strokeWidth": 1}}
       ]},
      {"data": {"name": "d"}, "width": 135, "height": 128, "view": {"stroke": "black", "strokeWidth": 1.2},
       "transform": [{"filter": "datum.r == 'Medium' && datum.c == 'pSTAT3'"}],
       "encoding": {
         "x": {"field": "x", "type": "quantitative", "scale": {"domain": [0, 100], "nice": false}, "axis": null},
         "y": {"field": "y", "type": "quantitative", "scale": {"domain": [0, 60], "nice": false}, "axis": {"title": null, "values": [0, 10, 20, 30, 40, 50, 60], "labelExpr": "datum.value % 20 == 0 ? datum.label : ''", "tickSize": 3, "labelPadding": 3, "labelFontSize": 19.5, "minExtent": 25.5, "maxExtent": 25.5}}
       },
       "layer": [
         {"transform": [{"filter": "datum.s == 'i'"}], "mark": {"type": "area", "fill": "#eceeea", "stroke": "#666666", "strokeWidth": 1, "strokeDash": [3, 1.5]}},
         {"transform": [{"filter": "datum.s == 's'"}], "mark": {"type": "area", "fill": "#374343", "stroke": "#1c2424", "strokeWidth": 1}}
       ]},
      {"data": {"name": "d"}, "width": 135, "height": 128, "view": {"stroke": "black", "strokeWidth": 1.2},
       "transform": [{"filter": "datum.r == 'Medium' && datum.c == 'pERK1/2'"}],
       "encoding": {
         "x": {"field": "x", "type": "quantitative", "scale": {"domain": [0, 100], "nice": false}, "axis": null},
         "y": {"field": "y", "type": "quantitative", "scale": {"domain": [0, 60], "nice": false}, "axis": {"title": null, "values": [0, 10, 20, 30, 40, 50, 60], "labelExpr": "datum.value % 20 == 0 ? datum.label : ''", "tickSize": 3, "labelPadding": 3, "labelFontSize": 19.5, "minExtent": 25.5, "maxExtent": 25.5}}
       },
       "layer": [
         {"transform": [{"filter": "datum.s == 'i'"}], "mark": {"type": "area", "fill": "#eceeea", "stroke": "#666666", "strokeWidth": 1, "strokeDash": [3, 1.5]}},
         {"transform": [{"filter": "datum.s == 's'"}], "mark": {"type": "area", "fill": "#374343", "stroke": "#1c2424", "strokeWidth": 1}}
       ]},
      {"data": {"values": []}, "mark": "point", "width": 1, "height": 128,
       "encoding": {"y": {"field": "y", "type": "quantitative", "scale": {"domain": [0, 60]}, "axis": {"title": "IL-27", "titleFontSize": 20, "titlePadding": 26.9, "labels": false, "ticks": false, "domain": false, "minExtent": 0, "maxExtent": 0}}}},
      {"data": {"name": "d"}, "width": 135, "height": 128, "view": {"stroke": "black", "strokeWidth": 1.2},
       "transform": [{"filter": "datum.r == 'IL-27' && datum.c == 'pSTAT1'"}],
       "encoding": {
         "x": {"field": "x", "type": "quantitative", "scale": {"domain": [0, 100], "nice": false}, "axis": null},
         "y": {"field": "y", "type": "quantitative", "scale": {"domain": [0, 60], "nice": false}, "axis": {"title": "100 ng/mL", "titleFontSize": 20, "titlePadding": 10.7, "values": [0, 10, 20, 30, 40, 50, 60], "labelExpr": "datum.value % 20 == 0 ? datum.label : ''", "tickSize": 3, "labelPadding": 3, "labelFontSize": 19.5, "minExtent": 25.5, "maxExtent": 25.5}}
       },
       "layer": [
         {"transform": [{"filter": "datum.s == 'i'"}], "mark": {"type": "area", "fill": "#eceeea", "stroke": "#666666", "strokeWidth": 1, "strokeDash": [3, 1.5]}},
         {"transform": [{"filter": "datum.s == 's'"}], "mark": {"type": "area", "fill": "#374343", "stroke": "#1c2424", "strokeWidth": 1}}
       ]},
      {"data": {"name": "d"}, "width": 135, "height": 128, "view": {"stroke": "black", "strokeWidth": 1.2},
       "transform": [{"filter": "datum.r == 'IL-27' && datum.c == 'pSTAT3'"}],
       "encoding": {
         "x": {"field": "x", "type": "quantitative", "scale": {"domain": [0, 100], "nice": false}, "axis": null},
         "y": {"field": "y", "type": "quantitative", "scale": {"domain": [0, 60], "nice": false}, "axis": {"title": null, "values": [0, 10, 20, 30, 40, 50, 60], "labelExpr": "datum.value % 20 == 0 ? datum.label : ''", "tickSize": 3, "labelPadding": 3, "labelFontSize": 19.5, "minExtent": 25.5, "maxExtent": 25.5}}
       },
       "layer": [
         {"transform": [{"filter": "datum.s == 'i'"}], "mark": {"type": "area", "fill": "#eceeea", "stroke": "#666666", "strokeWidth": 1, "strokeDash": [3, 1.5]}},
         {"transform": [{"filter": "datum.s == 's'"}], "mark": {"type": "area", "fill": "#374343", "stroke": "#1c2424", "strokeWidth": 1}}
       ]},
      {"data": {"name": "d"}, "width": 135, "height": 128, "view": {"stroke": "black", "strokeWidth": 1.2},
       "transform": [{"filter": "datum.r == 'IL-27' && datum.c == 'pERK1/2'"}],
       "encoding": {
         "x": {"field": "x", "type": "quantitative", "scale": {"domain": [0, 100], "nice": false}, "axis": null},
         "y": {"field": "y", "type": "quantitative", "scale": {"domain": [0, 60], "nice": false}, "axis": {"title": null, "values": [0, 10, 20, 30, 40, 50, 60], "labelExpr": "datum.value % 20 == 0 ? datum.label : ''", "tickSize": 3, "labelPadding": 3, "labelFontSize": 19.5, "minExtent": 25.5, "maxExtent": 25.5}}
       },
       "layer": [
         {"transform": [{"filter": "datum.s == 'i'"}], "mark": {"type": "area", "fill": "#eceeea", "stroke": "#666666", "strokeWidth": 1, "strokeDash": [3, 1.5]}},
         {"transform": [{"filter": "datum.s == 's'"}], "mark": {"type": "area", "fill": "#374343", "stroke": "#1c2424", "strokeWidth": 1}}
       ]},
      {"data": {"values": []}, "mark": "point", "width": 1, "height": 128,
       "encoding": {"y": {"field": "y", "type": "quantitative", "scale": {"domain": [0, 60]}, "axis": {"title": "IL-30", "titleFontSize": 20, "titlePadding": 34.6, "labels": false, "ticks": false, "domain": false, "minExtent": 0, "maxExtent": 0}}}},
      {"data": {"name": "d"}, "width": 135, "height": 128, "view": {"stroke": "black", "strokeWidth": 1.2},
       "transform": [{"filter": "datum.r == 'IL-30' && datum.c == 'pSTAT1'"}],
       "encoding": {
         "x": {"field": "x", "type": "quantitative", "scale": {"domain": [0, 100], "nice": false}, "axis": {"title": "pSTAT1", "labels": false, "ticks": false, "domain": false, "titleFontSize": 18.5, "titlePadding": 6}},
         "y": {"field": "y", "type": "quantitative", "scale": {"domain": [0, 60], "nice": false}, "axis": {"title": "100 ng/mL", "titleFontSize": 20, "titlePadding": 14.4, "values": [0, 10, 20, 30, 40, 50, 60], "labelExpr": "datum.value % 20 == 0 ? datum.label : ''", "tickSize": 3, "labelPadding": 3, "labelFontSize": 19.5, "minExtent": 25.5, "maxExtent": 25.5}}
       },
       "layer": [
         {"transform": [{"filter": "datum.s == 'i'"}], "mark": {"type": "area", "fill": "#eceeea", "stroke": "#666666", "strokeWidth": 1, "strokeDash": [3, 1.5]}},
         {"transform": [{"filter": "datum.s == 's'"}], "mark": {"type": "area", "fill": "#374343", "stroke": "#1c2424", "strokeWidth": 1}}
       ]},
      {"data": {"name": "d"}, "width": 135, "height": 128, "view": {"stroke": "black", "strokeWidth": 1.2},
       "title": {"text": "( d )", "offset": 29, "dx": -21.2},
       "transform": [{"filter": "datum.r == 'IL-30' && datum.c == 'pSTAT3'"}],
       "encoding": {
         "x": {"field": "x", "type": "quantitative", "scale": {"domain": [0, 100], "nice": false}, "axis": {"title": "pSTAT3", "labels": false, "ticks": false, "domain": false, "titleFontSize": 18.5, "titlePadding": 6}},
         "y": {"field": "y", "type": "quantitative", "scale": {"domain": [0, 60], "nice": false}, "axis": {"title": null, "values": [0, 10, 20, 30, 40, 50, 60], "labelExpr": "datum.value % 20 == 0 ? datum.label : ''", "tickSize": 3, "labelPadding": 3, "labelFontSize": 19.5, "minExtent": 25.5, "maxExtent": 25.5}}
       },
       "layer": [
         {"transform": [{"filter": "datum.s == 'i'"}], "mark": {"type": "area", "fill": "#eceeea", "stroke": "#666666", "strokeWidth": 1, "strokeDash": [3, 1.5]}},
         {"transform": [{"filter": "datum.s == 's'"}], "mark": {"type": "area", "fill": "#374343", "stroke": "#1c2424", "strokeWidth": 1}}
       ]},
      {"data": {"name": "d"}, "width": 135, "height": 128, "view": {"stroke": "black", "strokeWidth": 1.2},
       "transform": [{"filter": "datum.r == 'IL-30' && datum.c == 'pERK1/2'"}],
       "encoding": {
         "x": {"field": "x", "type": "quantitative", "scale": {"domain": [0, 100], "nice": false}, "axis": {"title": "pERK1/2", "labels": false, "ticks": false, "domain": false, "titleFontSize": 18.5, "titlePadding": 6}},
         "y": {"field": "y", "type": "quantitative", "scale": {"domain": [0, 60], "nice": false}, "axis": {"title": null, "values": [0, 10, 20, 30, 40, 50, 60], "labelExpr": "datum.value % 20 == 0 ? datum.label : ''", "tickSize": 3, "labelPadding": 3, "labelFontSize": 19.5, "minExtent": 25.5, "maxExtent": 25.5}}
       },
       "layer": [
         {"transform": [{"filter": "datum.s == 'i'"}], "mark": {"type": "area", "fill": "#eceeea", "stroke": "#666666", "strokeWidth": 1, "strokeDash": [3, 1.5]}},
         {"transform": [{"filter": "datum.s == 's'"}], "mark": {"type": "area", "fill": "#374343", "stroke": "#1c2424", "strokeWidth": 1}}
       ]}
    ]
  }
]
}
